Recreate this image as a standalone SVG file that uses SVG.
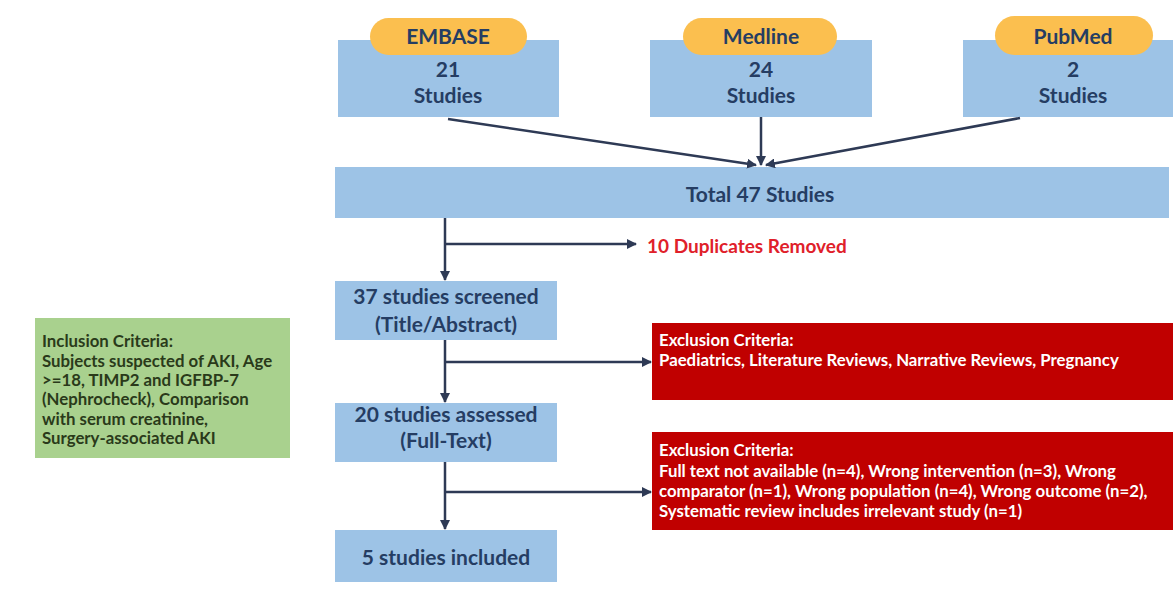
<svg xmlns="http://www.w3.org/2000/svg" width="1173" height="605" viewBox="0 0 1173 605">
<style>
.box{fill:#9DC3E6}
.pill{fill:#FBBF4F}
.t{font-family:Lato,"Liberation Sans",sans-serif;font-weight:bold;fill:#253D63;font-size:21px;text-anchor:middle}
.red{font-family:Lato,"Liberation Sans",sans-serif;font-weight:bold;fill:#E0202A;font-size:19px}
.w{font-family:Lato,"Liberation Sans",sans-serif;font-weight:bold;fill:#FFFFFF;font-size:16.8px}
.g{font-family:Lato,"Liberation Sans",sans-serif;font-weight:bold;fill:#2A3A1A;font-size:16.8px}
.c{stroke:#2E3A55;stroke-width:2.5;fill:none}
</style>
<defs>
<marker id="ah" viewBox="0 0 10 10" refX="9" refY="5" markerWidth="4" markerHeight="4" orient="auto">
<path d="M0,0 L10,5 L0,10 z" fill="#2E3A55"/>
</marker>
</defs>
<rect width="1173" height="605" fill="#FFFFFF"/>
<g id="embase">
<rect class="box" x="338" y="40" width="221" height="77"/>
<rect class="pill" x="370" y="18" width="157" height="37" rx="18.5"/>
<text class="t" x="448" y="44">EMBASE</text>
<text class="t" x="448" y="77">21</text>
<text class="t" x="448" y="103">Studies</text>
</g>
<g id="medline">
<rect class="box" x="650" y="40" width="222" height="77"/>
<rect class="pill" x="683" y="18" width="154" height="37" rx="18.5"/>
<text class="t" x="761" y="44">Medline</text>
<text class="t" x="761" y="77">24</text>
<text class="t" x="761" y="103">Studies</text>
</g>
<g id="pubmed">
<rect class="box" x="963" y="40" width="210" height="77"/>
<rect class="pill" x="995" y="16" width="158" height="39" rx="19.5"/>
<text class="t" x="1073" y="44">PubMed</text>
<text class="t" x="1073" y="77">2</text>
<text class="t" x="1073" y="103">Studies</text>
</g>
<g id="total">
<rect class="box" x="335" y="167" width="834" height="51"/>
<text class="t" x="760" y="202">Total 47 Studies</text>
</g>
<g id="duplicates">
<text class="red" x="647" y="253">10 Duplicates Removed</text>
</g>
<g id="screened">
<rect class="box" x="335" y="281" width="222" height="59"/>
<text class="t" x="446" y="304">37 studies screened</text>
<text class="t" x="446" y="332">(Title/Abstract)</text>
</g>
<g id="exclusion1">
<rect x="652" y="323" width="521" height="77" fill="#C00000"/>
<text class="w" x="659" y="346">Exclusion Criteria:</text>
<text class="w" x="659" y="366">Paediatrics, Literature Reviews, Narrative Reviews, Pregnancy</text>
</g>
<g id="assessed">
<rect class="box" x="335" y="403" width="222" height="59"/>
<text class="t" x="446" y="422">20 studies assessed</text>
<text class="t" x="446" y="448">(Full-Text)</text>
</g>
<g id="exclusion2">
<rect x="652" y="432" width="521" height="98" fill="#C00000"/>
<text class="w" x="659" y="456">Exclusion Criteria:</text>
<text class="w" x="659" y="477">Full text not available (n=4), Wrong intervention (n=3), Wrong</text>
<text class="w" x="659" y="497">comparator (n=1), Wrong population (n=4), Wrong outcome (n=2),</text>
<text class="w" x="659" y="517">Systematic review includes irrelevant study (n=1)</text>
</g>
<g id="included">
<rect class="box" x="335" y="530" width="222" height="52"/>
<text class="t" x="446" y="565">5 studies included</text>
</g>
<g id="inclusion">
<rect x="35" y="318" width="255" height="140" fill="#A9D18E"/>
<text class="g" x="42" y="347">Inclusion Criteria:</text>
<text class="g" x="42" y="367">Subjects suspected of AKI, Age</text>
<text class="g" x="42" y="386">&gt;=18, TIMP2 and IGFBP-7</text>
<text class="g" x="42" y="405">(Nephrocheck), Comparison</text>
<text class="g" x="42" y="425">with serum creatinine,</text>
<text class="g" x="42" y="444">Surgery-associated AKI</text>
</g>
<g id="connectors">
<line class="c" x1="448" y1="119" x2="756" y2="165" marker-end="url(#ah)"/>
<line class="c" x1="761" y1="117" x2="761" y2="165" marker-end="url(#ah)"/>
<line class="c" x1="1020" y1="118" x2="766" y2="165" marker-end="url(#ah)"/>
<line class="c" x1="445" y1="218" x2="445" y2="280" marker-end="url(#ah)"/>
<line class="c" x1="445" y1="244" x2="636" y2="244" marker-end="url(#ah)"/>
<line class="c" x1="445" y1="340" x2="445" y2="402" marker-end="url(#ah)"/>
<line class="c" x1="445" y1="362" x2="651" y2="362" marker-end="url(#ah)"/>
<line class="c" x1="445" y1="462" x2="445" y2="529" marker-end="url(#ah)"/>
<line class="c" x1="445" y1="492" x2="651" y2="492" marker-end="url(#ah)"/>
</g>
</svg>
